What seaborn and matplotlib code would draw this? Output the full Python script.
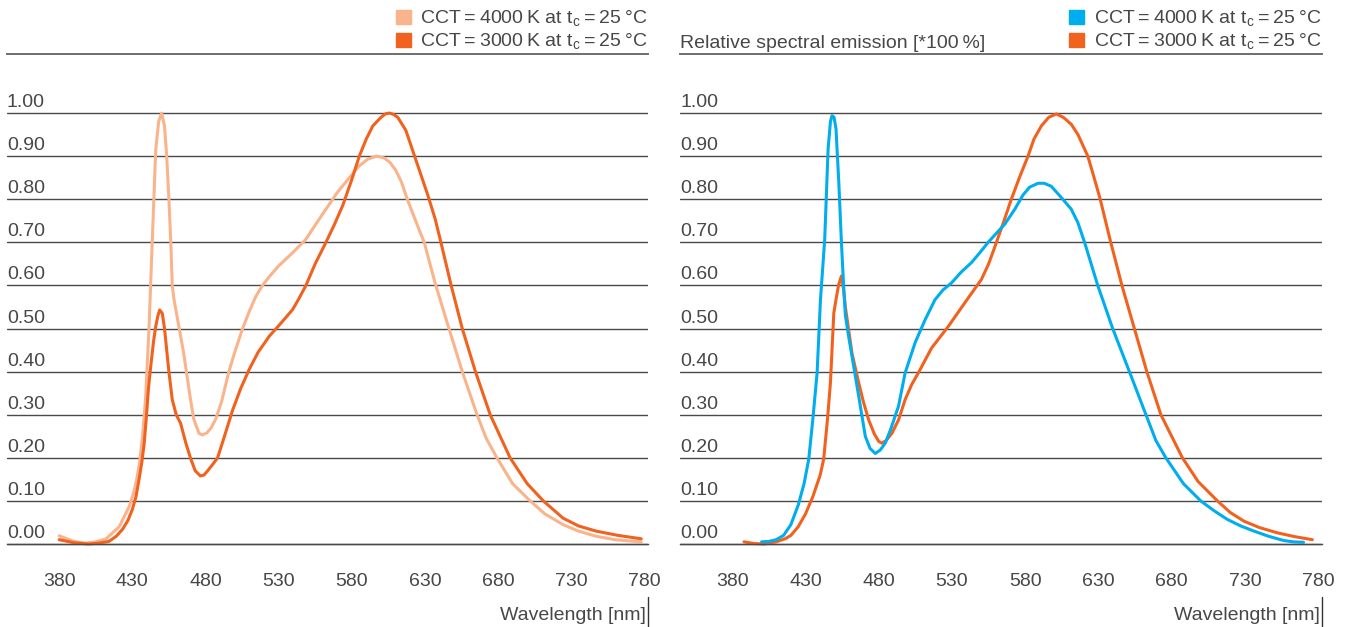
import matplotlib
matplotlib.use('Agg')
import pandas as pd
import matplotlib.pyplot as plt
import seaborn as sns
from matplotlib.lines import Line2D
from matplotlib.patches import Rectangle

# ---- data (wavelength nm, relative emission) ----
left_4000_nm = [380, 390, 398, 405, 412, 421, 428, 431, 433, 435, 437, 439, 441.4, 443.6, 446, 448,
                450, 452, 453.5, 455, 456.3, 457.3, 458.5, 461, 465, 469.8, 472, 475.5, 478, 481,
                484, 487, 491, 496, 500.5, 505.4, 510, 514.5, 519, 523.6, 530, 539.6, 548.7, 555,
                562.4, 570, 576, 585, 591, 597, 602, 606, 610, 614, 618, 622, 626, 629.6, 633.5,
                637.5, 646.5, 655.6, 665.7, 672, 679.3, 690, 702, 712, 724.5, 735, 747, 760, 770,
                778]
left_4000_val = [0.019, 0.006, 0.002, 0.005, 0.012, 0.04, 0.088, 0.12, 0.15, 0.19, 0.25, 0.335,
                 0.50, 0.70, 0.915, 0.98, 1.0, 0.97, 0.90, 0.80, 0.70, 0.60, 0.567, 0.52, 0.445,
                 0.335, 0.29, 0.257, 0.253, 0.258, 0.27, 0.29, 0.33, 0.40, 0.45, 0.50, 0.54,
                 0.575, 0.60, 0.62, 0.645, 0.676, 0.707, 0.74, 0.777, 0.815, 0.84, 0.877, 0.893,
                 0.90, 0.896, 0.886, 0.868, 0.84, 0.80, 0.765, 0.73, 0.70, 0.65, 0.60, 0.50, 0.40,
                 0.30, 0.245, 0.20, 0.14, 0.10, 0.07, 0.045, 0.03, 0.018, 0.01, 0.007, 0.005]

left_3000_nm = [380, 390, 400, 407, 414, 419, 423.3, 427, 430, 432.5, 434.6, 436.5, 438, 439.5,
                441, 442.5, 444.5, 446, 447.5, 448.7, 450.5, 452, 455, 457.3, 460, 463, 466.6,
                470, 473, 476.5, 479, 482, 485, 488.3, 493, 498.5, 504, 509.9, 516, 523.6, 531,
                539.6, 544, 548.7, 555, 562.4, 568, 573.8, 580, 585.2, 590, 594.4, 600, 603,
                605.7, 608.5, 611.5, 617, 622, 627, 632, 637, 641, 648, 655.6, 664.6, 674.7,
                688.3, 700, 711, 724.5, 735, 747, 762, 778]
left_3000_val = [0.010, 0.003, 0.0, 0.002, 0.006, 0.018, 0.034, 0.055, 0.08, 0.11, 0.15, 0.19,
                 0.23, 0.29, 0.36, 0.41, 0.47, 0.505, 0.53, 0.543, 0.535, 0.50, 0.40, 0.335, 0.30,
                 0.28, 0.234, 0.197, 0.17, 0.158, 0.16, 0.172, 0.185, 0.20, 0.25, 0.31, 0.36,
                 0.405, 0.445, 0.482, 0.51, 0.544, 0.57, 0.60, 0.65, 0.70, 0.74, 0.785, 0.845,
                 0.90, 0.94, 0.97, 0.99, 0.998, 1.0, 0.997, 0.99, 0.96, 0.91, 0.86, 0.81, 0.755,
                 0.70, 0.60, 0.50, 0.40, 0.30, 0.20, 0.14, 0.10, 0.06, 0.042, 0.03, 0.02, 0.012]

right_4000_nm = [400, 405, 410, 415, 420, 425, 429, 432.2, 435, 437.9, 440.2, 443.1, 445.4, 447,
                 448.1, 449.5, 450.8, 452.7, 454.5, 456, 457.2, 459.5, 461.7, 466.3, 470.8, 474,
                 477.6, 481, 484.4, 488, 493.5, 498, 504.8, 511.6, 518.4, 524, 529.7, 536, 543.3,
                 549, 554.7, 560, 566, 572.9, 578.5, 583, 588.7, 593, 597.8, 604.6, 611.4, 615.9,
                 620.5, 629.5, 639.7, 651.1, 662.4, 669.2, 676, 688, 699.8, 709, 718, 727, 736.1,
                 746, 756.5, 763, 770]
right_4000_val = [0.005, 0.006, 0.01, 0.02, 0.045, 0.09, 0.14, 0.197, 0.29, 0.397, 0.567, 0.707,
                  0.916, 0.98, 0.994, 0.99, 0.963, 0.84, 0.70, 0.60, 0.53, 0.48, 0.436, 0.343,
                  0.25, 0.222, 0.21, 0.218, 0.234, 0.265, 0.32, 0.397, 0.467, 0.52, 0.567, 0.59,
                  0.606, 0.63, 0.653, 0.676, 0.70, 0.72, 0.742, 0.777, 0.81, 0.828, 0.837, 0.837,
                  0.83, 0.804, 0.777, 0.746, 0.70, 0.60, 0.50, 0.40, 0.30, 0.24, 0.20, 0.14, 0.10,
                  0.077, 0.057, 0.042, 0.03, 0.018, 0.008, 0.005, 0.004]

right_3000_nm = [388, 395, 402, 410, 416, 420, 425, 430, 435, 440, 442.4, 445, 447, 449.3, 450.8,
                 452.5, 454.5, 456, 457.2, 461.7, 466.3, 469.5, 473.1, 477, 480, 482.1, 485, 489,
                 493.5, 498, 502.5, 507, 516.1, 527.5, 538.8, 550.1, 555, 559.3, 565, 570.5, 576,
                 581.9, 586, 591, 596, 601.2, 606, 611.4, 616, 622.7, 626, 631.2, 638, 646, 654.5,
                 663, 672.6, 687.3, 698, 711.2, 720, 729.3, 740, 752, 764, 776]
right_3000_val = [0.005, 0.001, 0.0, 0.005, 0.012, 0.02, 0.04, 0.07, 0.11, 0.16, 0.197, 0.29,
                  0.374, 0.536, 0.567, 0.60, 0.622, 0.59, 0.55, 0.443, 0.374, 0.33, 0.288, 0.255,
                  0.238, 0.234, 0.24, 0.257, 0.288, 0.335, 0.37, 0.397, 0.455, 0.505, 0.56, 0.614,
                  0.65, 0.69, 0.745, 0.80, 0.85, 0.90, 0.94, 0.97, 0.99, 0.998, 0.99, 0.974, 0.95,
                  0.90, 0.862, 0.80, 0.705, 0.60, 0.50, 0.40, 0.30, 0.20, 0.145, 0.10, 0.073,
                  0.053, 0.038, 0.026, 0.017, 0.01]

x_ticks = [380, 430, 480, 530, 580, 630, 680, 730, 780]
y_ticks = [0.0, 0.1, 0.2, 0.3, 0.4, 0.5, 0.6, 0.7, 0.8, 0.9, 1.0]

label_4000 = 'CCT\u2009=\u20094000\u2009K at t$_\\mathregular{c}$\u2009=\u200925\u2009°C'
label_3000 = 'CCT\u2009=\u20093000\u2009K at t$_\\mathregular{c}$\u2009=\u200925\u2009°C'
x_title = 'Wavelength [nm]'
y_title = 'Relative spectral emission [*100\u2009%]'

LIGHT = '#FAB48C'
ORANGE = '#F1621F'
BLUE = '#00ADEE'
TXT = '#474747'
GRID = '#4a4a4a'

sns.set_theme(style='white')
plt.rcParams['font.family'] = ['Liberation Sans', 'DejaVu Sans']
plt.rcParams['font.size'] = 14

W, H = 1353, 627
fig = plt.figure(figsize=(W / 100, H / 100), dpi=100)


def fx(px):
    return px / W


def fy(py):
    return 1 - py / H


def panel(x0, x1, series, order, show_ytitle):
    ax = fig.add_axes([fx(x0), fy(548.3), fx(x1) - fx(x0), fy(54) - fy(548.3)])
    frames = []
    for name, nm, val in series:
        frames.append(pd.DataFrame({'wavelength': nm, 'emission': val, 'series': name}))
    df = pd.concat(frames, ignore_index=True)
    palette = {name: col for name, col in order}
    sns.lineplot(data=df, x='wavelength', y='emission', hue='series',
                 hue_order=[n for n, _ in order], palette=palette, estimator=None,
                 legend=False, linewidth=2.2, ax=ax,
                 solid_capstyle='round', solid_joinstyle='round')
    ax.set_xlim(344.3, 782.6)
    ax.set_ylim(-0.01, 1.137)
    ax.set_xlabel('')
    ax.set_ylabel('')
    ax.set_xticks(x_ticks)
    ax.set_yticks(y_ticks)
    ax.tick_params(axis='y', length=0, labelleft=False)
    ax.tick_params(axis='x', direction='out', length=15.8, width=1, color='#555555',
                   pad=5, labelsize=14, labelcolor=TXT)
    ax.grid(axis='y', color=GRID, linewidth=1.0)
    ax.set_axisbelow(True)
    for s in ['left', 'right']:
        ax.spines[s].set_visible(False)
    ax.spines['bottom'].set_position(('data', 0))
    ax.spines['bottom'].set_color(GRID)
    ax.spines['bottom'].set_linewidth(1.0)
    ax.spines['top'].set_color('#6e6e6e')
    ax.spines['top'].set_linewidth(1.4)
    for v in y_ticks:
        ax.annotate(f'{v:.2f}', xy=(0, v), xycoords=('axes fraction', 'data'),
                    xytext=(0, 6), textcoords='offset pixels', ha='left', va='baseline',
                    fontsize=14, color=TXT)
    # axis title bottom right with the small bar
    fig.text(fx(x1 - 2), fy(620), x_title, ha='right', va='baseline', fontsize=14, color=TXT)
    fig.add_artist(Line2D([fx(x1), fx(x1)], [fy(597), fy(627)], color='#333333', lw=1.0))
    if show_ytitle:
        fig.text(fx(x0), fy(48), y_title, ha='left', va='baseline', fontsize=14, color=TXT)
    return ax


panel(7, 648,
      [(label_4000, left_4000_nm, left_4000_val), (label_3000, left_3000_nm, left_3000_val)],
      [(label_4000, LIGHT), (label_3000, ORANGE)], False)
panel(680, 1322,
      [(label_4000, right_4000_nm, right_4000_val), (label_3000, right_3000_nm, right_3000_val)],
      [(label_3000, ORANGE), (label_4000, BLUE)], True)

# legends (square swatch + text) above each panel
for sq_x, txt_x, c1, c2 in [(396, 420.5, LIGHT, ORANGE), (1069, 1093.5, BLUE, ORANGE)]:
    for base, col, lbl in [(24, c1, label_4000), (47, c2, label_3000)]:
        fig.add_artist(Rectangle((fx(sq_x), fy(base)), 15 / W, 14 / H, color=col,
                                 transform=fig.transFigure))
        fig.text(fx(txt_x), fy(base), lbl, ha='left', va='baseline', fontsize=14, color=TXT)

fig.savefig('out.png', dpi=100)
